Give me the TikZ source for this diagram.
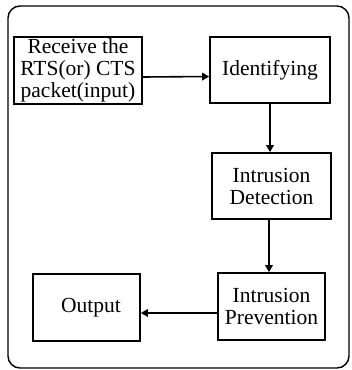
\documentclass[tikz,border=0pt]{standalone}
\usepackage{fontspec}
\setmainfont{Liberation Serif}
\usetikzlibrary{arrows.meta}
\begin{document}
\begin{tikzpicture}[x=1pt,y=-1pt,
  blk/.style={draw,line width=1.7pt,inner sep=0pt,align=center,
    font=\fontsize{21.5}{22}\selectfont},
  arr/.style={line width=1.6pt,-{Triangle[length=7pt,width=7.5pt]}},
  frame/.style={draw,line width=1.4pt,rounded corners=12pt}]
\useasboundingbox (0,0) rectangle (352,370);
\node[frame,minimum width=341pt,minimum height=362pt] (fr) at (178.5,187) {};
\node[blk,minimum width=128pt,minimum height=67pt] (b1) at (78,70.5) {Receive the\\RTS(or) CTS\\packet(input)};
\node[blk,minimum width=120pt,minimum height=66pt] (b2) at (270,70) {Identifying};
\node[blk,minimum width=119pt,minimum height=66pt] (b3) at (271.5,186) {Intrusion\\Detection};
\node[blk,minimum width=107pt,minimum height=67pt] (b4) at (271.5,306.5) {Intrusion\\Prevention};
\node[blk,minimum width=107pt,minimum height=67pt] (b5) at (86.5,307.5) {\hspace*{9pt}Output};
\draw[arr] ([yshift=-6.5pt]b1.east) -- ([yshift=-6.5pt]b2.west);
\draw[arr] (b2.south) -- (b2.south |- b3.north);
\draw[arr] ([xshift=-2.5pt]b3.south) -- ([xshift=-2.5pt]b3.south |- b4.north);
\draw[arr] ([yshift=-6.5pt]b4.west) -- ([yshift=-6.5pt]b4.west -| b5.east);
\end{tikzpicture}
\end{document}
